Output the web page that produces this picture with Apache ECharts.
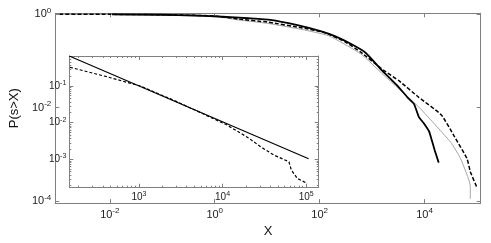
<!DOCTYPE html>
<html>
<head>
<meta charset="utf-8">
<script src="https://cdn.jsdelivr.net/npm/echarts@6/dist/echarts.min.js"></script>
<style>html,body{margin:0;padding:0;background:#fff}#c{width:491px;height:243px}</style>
</head>
<body>
<div id="c"></div>
<script>
// ---- main plot data (x, P(s>X)) ----
var solidX = [0.011, 0.1, 0.4, 1, 2, 4.3, 11.5, 36, 100, 195, 400, 750, 1520, 2170, 3090, 4720, 6280, 7760, 9600, 12200, 13600, 15700, 18600];
var solidY = [0.99, 0.975, 0.94, 0.9, 0.865, 0.82, 0.755, 0.59, 0.44, 0.34, 0.23, 0.15, 0.064, 0.043, 0.029, 0.0167, 0.0121, 0.0064, 0.0047, 0.0031, 0.0021, 0.0012, 0.00067];

var dashX = [0.0011, 0.01, 0.1, 1, 2.8, 10, 47.5, 128, 300, 607, 1640, 3320, 7760, 20900, 36700, 64600, 74400, 99000];
var dashY = [1.0, 0.995, 0.975, 0.92, 0.79, 0.68, 0.51, 0.40, 0.26, 0.154, 0.064, 0.037, 0.0167, 0.0070, 0.00247, 0.00081, 0.00043, 0.0002];

var greyX = [0.0011, 0.01, 0.1, 1, 2.81, 10, 47.5, 150, 607, 1640, 7760, 31800, 48700, 74400, 74400];
var greyY = [1.0, 0.99, 0.965, 0.9, 0.755, 0.64, 0.469, 0.345, 0.142, 0.0506, 0.01035, 0.0018, 0.00081, 0.00021, 0.000112];

// ---- inset data ----
var insetSolidX = [147, 107000];
var insetSolidY = [0.66, 0.00104];

var insetDashX = [150, 413, 1040, 2600, 6000, 11350, 20600, 28500, 41100, 62200, 66500, 78400, 103000];
var insetDashY = [0.325, 0.18, 0.1, 0.041, 0.017, 0.0086, 0.0038, 0.0022, 0.00131, 0.00086, 0.00051, 0.0003, 0.00022];

function zip(a, b) { return a.map(function (v, i) { return [v, b[i]]; }); }

function powLabel(v) {
  var l = Math.log10(v), e = Math.round(l);
  if (Math.abs(l - e) > 1e-6) return '';
  return '{b|10}{s|' + e + '}';
}

var FONT = 'Liberation Sans';
var AX = '#808080';
function mainLabel() {
  return { show: true, formatter: powLabel, color: '#222', margin: 4,
    rich: { b: { fontSize: 11, fontFamily: FONT, color: '#222' },
            s: { fontSize: 8, fontFamily: FONT, color: '#222', padding: [0, 0, 7, 0] } } };
}
function insetLabel() {
  return { show: true, formatter: powLabel, color: '#222', margin: 3,
    rich: { b: { fontSize: 10, fontFamily: FONT, color: '#222' },
            s: { fontSize: 7, fontFamily: FONT, color: '#222', padding: [0, 0, 6, 0] } } };
}

var mainXMin = 0.000912, mainXMax = 117490, mainYMin = 9.12e-5, mainYMax = 1.0471;
var inXMin = 147.2, inXMax = 141254, inYMin = 1.679e-4, inYMax = 0.661;

function mkX(grid, pos, base, min, max, label, minor, name) {
  return {
    type: 'log', logBase: base, gridIndex: grid, position: pos, min: min, max: max,
    name: name || '', nameLocation: 'middle', nameGap: 18,
    nameTextStyle: { fontSize: 13, fontFamily: FONT, color: '#111' },
    axisLine: { show: true, onZero: false, lineStyle: { color: AX, width: 1 } },
    axisTick: { show: true, inside: true, length: 4, lineStyle: { color: AX } },
    minorTick: minor ? { show: true, splitNumber: 10, length: 2, lineStyle: { color: AX } } : { show: false },
    axisLabel: label ? label : { show: false },
    splitLine: { show: false }, minorSplitLine: { show: false }
  };
}

var option = {
  animation: false,
  backgroundColor: '#fff',
  grid: [
    { left: 41, top: 13.3, width: 439.7, height: 196, show: false },
    { left: 69.3, top: 56, width: 249.4, height: 131.7, show: true, backgroundColor: '#fff', borderWidth: 0 }
  ],
  xAxis: [
    mkX(0, 'bottom', 100, mainXMin, mainXMax, mainLabel(), false, 'X'),
    mkX(0, 'top', 100, mainXMin, mainXMax, null, false),
    mkX(1, 'bottom', 10, inXMin, inXMax, insetLabel(), true),
    mkX(1, 'top', 10, inXMin, inXMax, null, true)
  ],
  yAxis: [
    Object.assign(mkX(0, 'left', 100, mainYMin, mainYMax, mainLabel(), false, 'P(s>X)'), { nameGap: 22, nameRotate: 90 }),
    mkX(0, 'right', 100, mainYMin, mainYMax, null, false),
    mkX(1, 'left', 10, inYMin, inYMax, insetLabel(), true),
    mkX(1, 'right', 10, inYMin, inYMax, null, true)
  ],
  series: [
    { type: 'line', xAxisIndex: 0, yAxisIndex: 0, data: zip(greyX, greyY), symbol: 'none', smooth: 0.15,
      lineStyle: { color: '#a5a5a5', width: 1 } },
    { type: 'line', xAxisIndex: 0, yAxisIndex: 0, data: zip(dashX, dashY), symbol: 'none', smooth: 0.15,
      lineStyle: { color: '#000', width: 1.5, type: [4, 2] } },
    { type: 'line', xAxisIndex: 0, yAxisIndex: 0, data: zip(solidX, solidY), symbol: 'none', smooth: 0.15,
      lineStyle: { color: '#000', width: 1.8 } },
    { type: 'line', xAxisIndex: 2, yAxisIndex: 2, data: zip(insetSolidX, insetSolidY), symbol: 'none',
      lineStyle: { color: '#000', width: 1.2 } },
    { type: 'line', xAxisIndex: 2, yAxisIndex: 2, data: zip(insetDashX, insetDashY), symbol: 'none',
      lineStyle: { color: '#000', width: 1.2, type: [3, 2] } }
  ]
};
var chart = echarts.init(document.getElementById('c'), null, { renderer: 'canvas' });
chart.setOption(option);
</script>
</body>
</html>
